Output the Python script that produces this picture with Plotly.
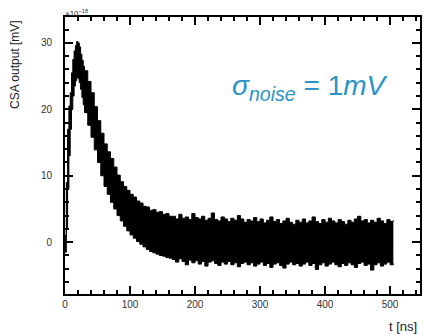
import plotly.graph_objects as go

# time samples [ns]
t_rise = [0, 2, 4, 6, 8, 10, 12, 14, 16, 18, 20, 22, 24, 26, 28]
t_main = list(range(30, 510, 5))
t_ns = t_rise + t_main

# upper envelope of the noisy CSA output (x1e-18)
upper_rise = [1.0, 9.0, 17.0, 20.5, 22.5, 25.5, 27.5, 28.8, 29.6, 30.2, 30.0, 29.4, 28.3, 27.4, 26.5]
upper_main = [25.8, 24.2, 22.5, 20.4, 18.3, 16.4, 14.8, 13.6, 12.6, 11.3, 10.1, 9.1, 8.4, 7.8, 7.2,
              6.8, 6.2, 5.9, 5.4, 5.3, 4.8, 4.9, 4.5, 4.6, 4.2, 4.3, 3.9,
              3.9, 3.5, 4.2, 3.6, 3.8, 3.4, 4.3, 3.7, 3.5, 3.9, 3.3, 3.6, 4.4, 3.4, 3.2, 3.8,
              3.5, 3.1, 3.6, 3.3, 4.0, 3.5, 3.0, 3.4, 3.2, 3.7, 3.1, 3.5, 2.9, 3.3, 3.8, 3.1,
              3.4, 2.8, 3.2, 3.6, 3.0, 2.7, 3.3, 3.0, 3.5, 2.9, 3.2, 3.8, 3.1, 2.8, 3.4, 3.0,
              3.6, 3.2, 2.9, 3.4, 3.1, 2.7, 3.3, 3.0, 3.5, 3.9, 3.2, 3.4, 2.9, 3.3, 3.0, 3.6,
              3.2, 2.8, 3.4, 3.1, 3.3]
# lower envelope
lower_rise = [-1.5, 2.0, 8.0, 13.0, 17.0, 20.0, 22.0, 23.5, 24.3, 24.8, 24.6, 24.0, 23.0, 21.8, 20.7]
lower_main = [19.5, 17.6, 15.8, 13.9, 12.0, 10.0, 8.4, 7.2, 6.0, 5.0, 4.0, 3.2, 2.4, 1.7, 1.1,
              0.6, 0.1, -0.3, -0.7, -1.1, -1.4, -1.6, -1.8, -2.0, -2.1, -2.3, -2.4,
              -2.6, -3.0, -2.5, -2.9, -3.4, -2.7, -3.1, -2.8, -3.3, -2.9, -3.6, -3.0, -2.8, -3.2,
              -3.5, -3.0, -3.3, -2.9, -3.4, -3.1, -3.7, -3.2, -3.0, -3.4, -3.1, -3.6, -3.3, -3.0,
              -3.5, -3.2, -3.8, -3.3, -3.1, -3.5, -3.9, -3.3, -3.0, -3.4, -3.2, -3.6, -3.3, -3.0,
              -3.5, -3.2, -4.1, -3.4, -3.1, -3.6, -3.3, -3.0, -3.4, -3.7, -3.2, -3.5, -3.1, -3.4,
              -3.8, -3.2, -3.0, -3.5, -3.3, -4.2, -3.4, -3.1, -3.6, -3.3, -3.0, -3.4, -3.2]
upper = upper_rise + upper_main
lower = lower_rise + lower_main

x_ticks = [0, 100, 200, 300, 400, 500]
y_ticks = [0, 10, 20, 30]

fig = go.Figure()
fig.add_trace(go.Scatter(x=t_ns, y=lower, mode="lines", line=dict(color="black", width=1, shape="hv"),
                         showlegend=False, hoverinfo="skip"))
fig.add_trace(go.Scatter(x=t_ns, y=upper, mode="lines", line=dict(color="black", width=1, shape="hv"),
                         fill="tonexty", fillcolor="black", showlegend=False, hoverinfo="skip"))

axis_common = dict(showline=True, linecolor="black", linewidth=2, mirror="ticks", ticks="inside",
                   tickwidth=2, tickcolor="black", showgrid=False, zeroline=False,
                   tickfont=dict(family="Liberation Sans, Arial", size=10, color="#333"))
fig.update_xaxes(range=[0, 546], tickvals=x_ticks, ticklen=8,
                 minor=dict(dtick=20, tick0=0, ticks="inside", ticklen=4, tickwidth=2, tickcolor="black"),
                 **axis_common)
fig.update_yaxes(range=[-7.8, 33.9], tickvals=y_ticks, ticklen=8, ticklabelstandoff=9,
                 minor=dict(dtick=2, tick0=0, ticks="inside", ticklen=4, tickwidth=2, tickcolor="black"),
                 **axis_common)

fig.update_layout(
    width=423, height=334,
    margin=dict(l=65, r=3, t=17, b=40, autoexpand=False),
    plot_bgcolor="white", paper_bgcolor="white",
    annotations=[
        dict(text="<i>σ<sub>noise</sub></i> = 1<i>mV</i>", xref="paper", yref="paper", x=0.9155, y=0.745,
             xanchor="right", yanchor="middle", showarrow=False,
             font=dict(family="Liberation Sans, Arial", size=28, color="#2a94c6")),
        dict(text="CSA output [mV]", xref="paper", yref="paper", x=-0.141, y=0.83,
             xanchor="center", yanchor="middle", textangle=-90, showarrow=False,
             font=dict(family="Liberation Sans, Arial", size=12, color="#222")),
        dict(text="t [ns]", xref="paper", yref="paper", x=0.998, y=-0.083,
             xanchor="right", yanchor="top", showarrow=False,
             font=dict(family="Liberation Sans, Arial", size=13, color="#222")),
        dict(text="×10<sup>−18</sup>", xref="paper", yref="paper", x=-0.005, y=1.0,
             xanchor="left", yanchor="bottom", showarrow=False, yshift=-3,
             font=dict(family="Liberation Sans, Arial", size=8, color="#333")),
    ],
)

# remove the browser's default 8px body margin so the 423x334 figure fills the window
fig.write_html("out.html", config={"displayModeBar": False},
               post_script="document.body.style.margin='0';document.body.style.overflow='hidden';")
